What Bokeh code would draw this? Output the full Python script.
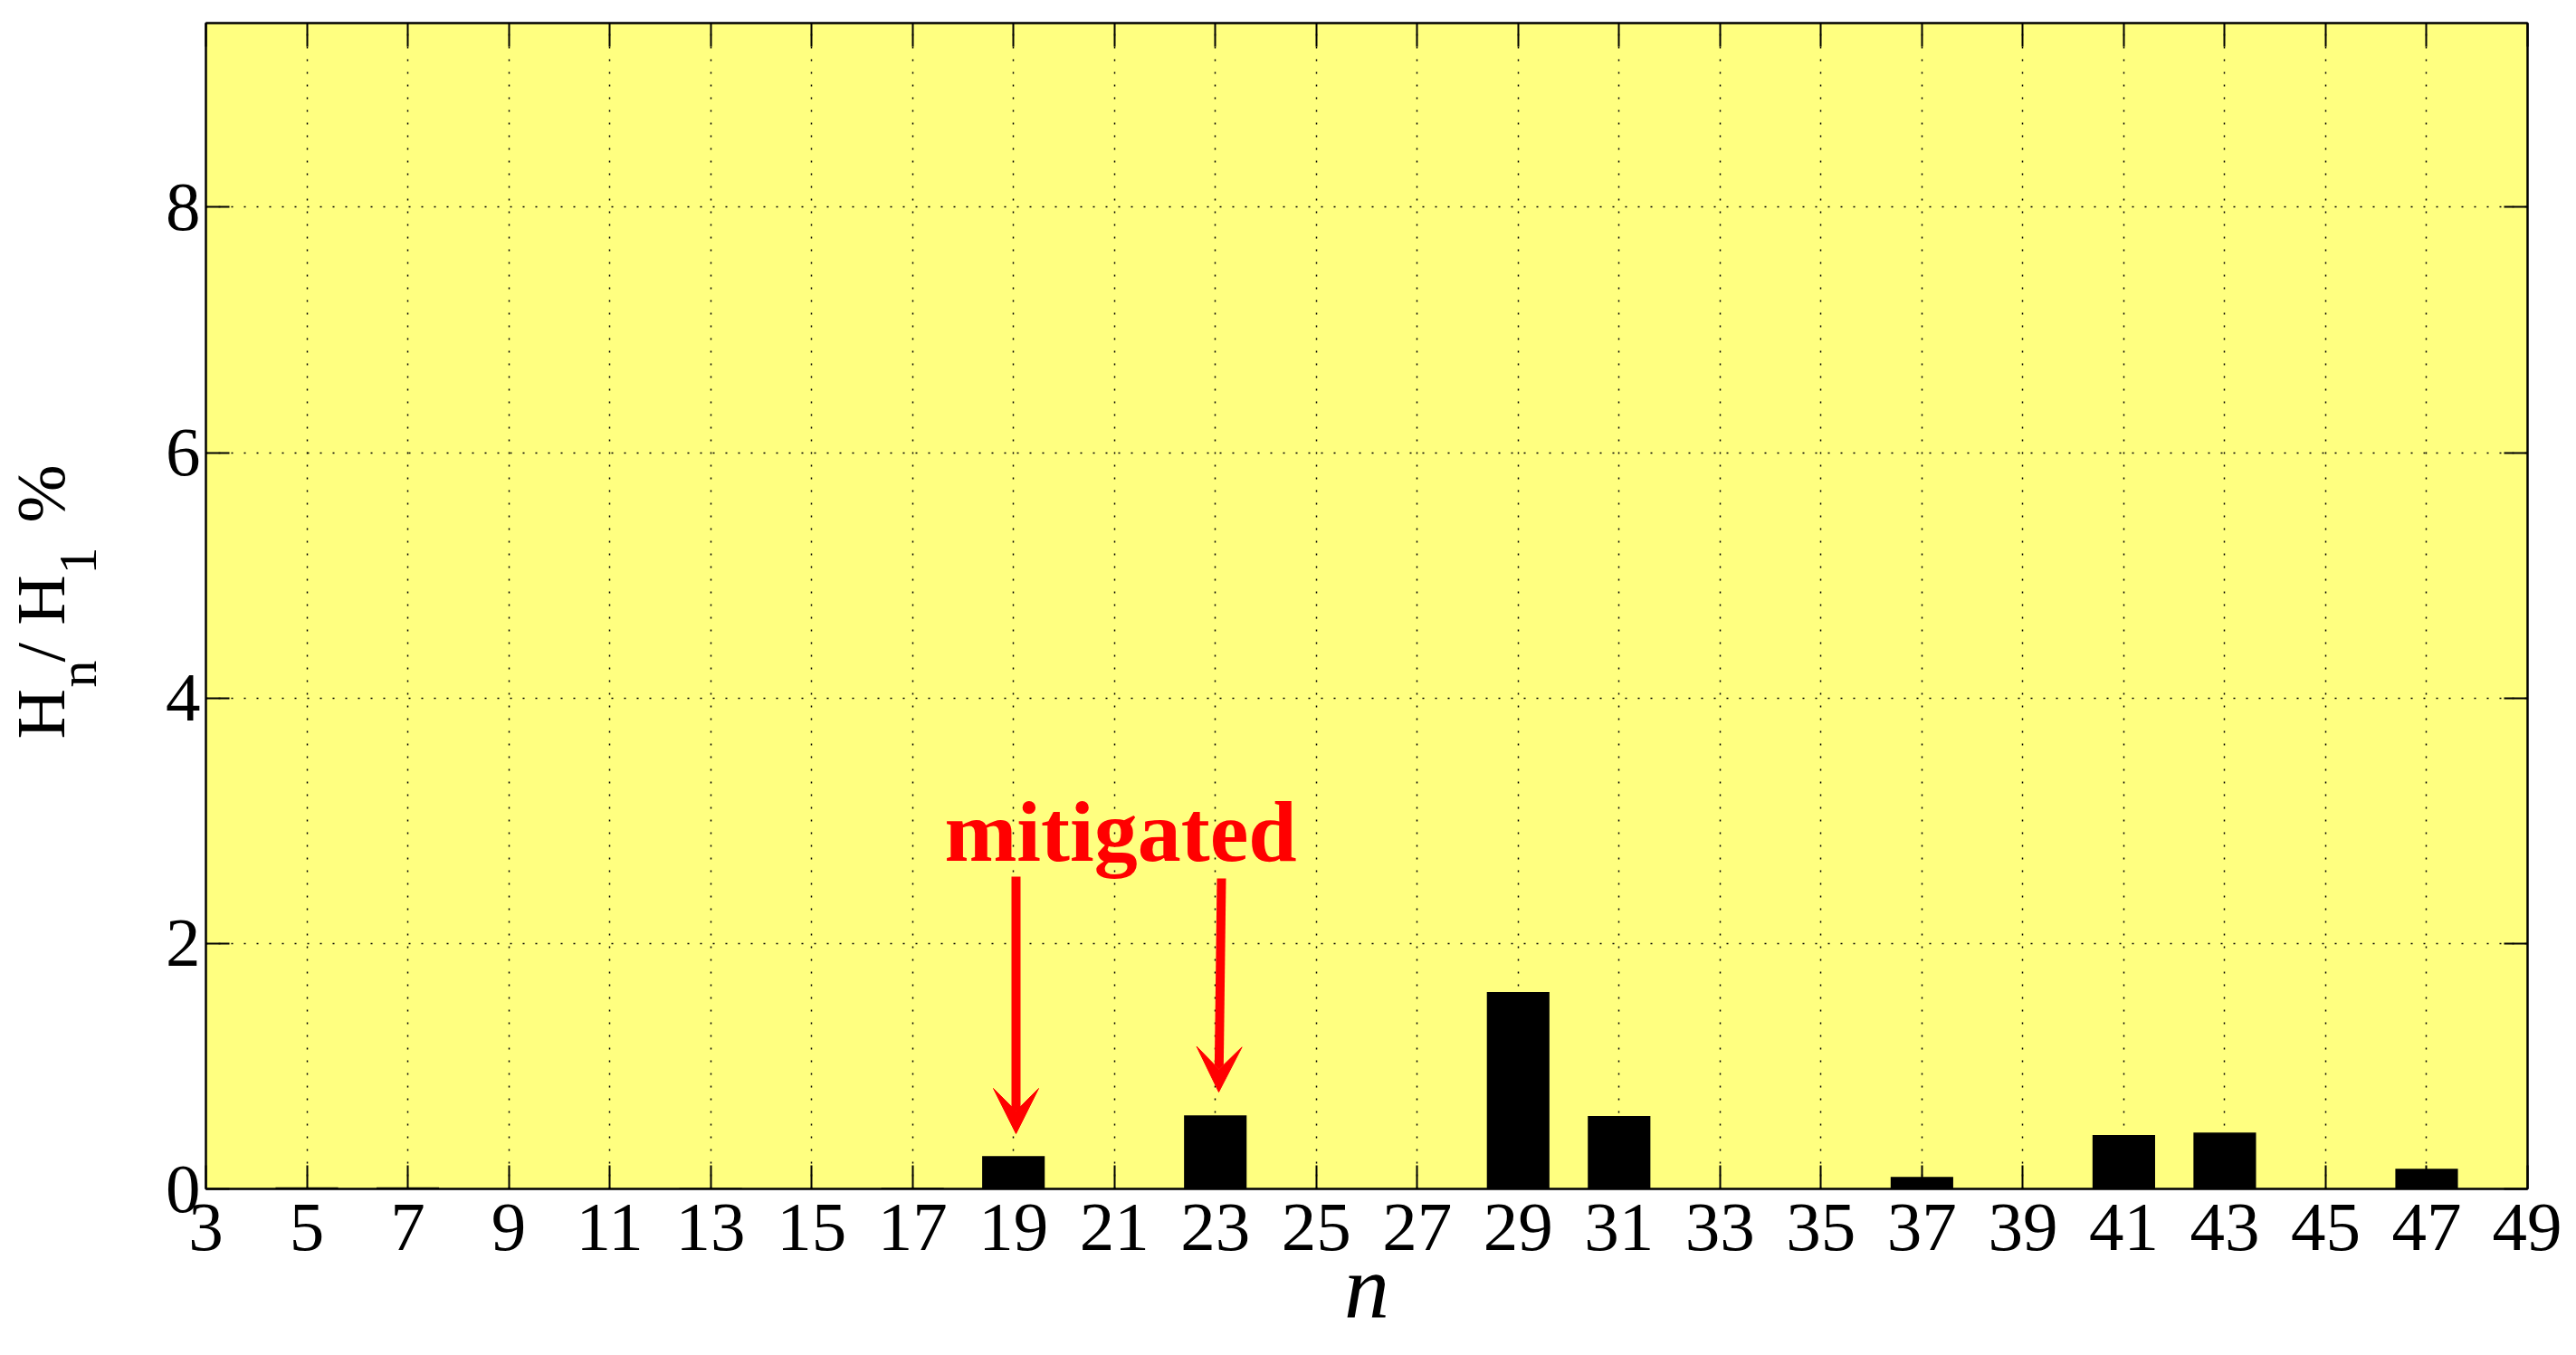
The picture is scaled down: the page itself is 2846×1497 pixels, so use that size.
from bokeh.plotting import figure
from bokeh.layouts import row
from bokeh.models import (Range1d, FixedTicker, LinearAxis, Label, Arrow, VeeHead)
from bokeh.embed import file_html
from bokeh.resources import INLINE
import math

# ---- data ----
harmonics = [3, 5, 7, 9, 11, 13, 15, 17, 19, 21, 23, 25, 27, 29, 31, 33, 35, 37, 39, 41, 43, 45, 47, 49]
hn_h1_pct = [0.0, 0.012, 0.012, 0.0, 0.0, 0.008, 0.0, 0.01, 0.268, 0.0, 0.600, 0.0, 0.0, 1.604,
             0.593, 0.0, 0.0, 0.098, 0.0, 0.438, 0.460, 0.0, 0.165, 0.0]
y_ticks = [0, 2, 4, 6, 8]
mitigated = [19, 23]

X0, X1 = 3, 49
Y0, Y1 = 0, 9.5

TOTAL_W, TOTAL_H = 2830, 1481
LEFT_W = 150
FL, FR, FT, FB = 227.0, 2792.0, 25.0, 1313.0   # frame edges (page px), used to place annotations

def dx(px):
    return X0 + (px - FL) * (X1 - X0) / (FR - FL)
def dy(py):
    return Y0 + (FB - py) * (Y1 - Y0) / (FB - FT)

FONT = "Liberation Serif"
MID = 0.3375   # distance from baseline to em-box centre, in font sizes

# ---- left strip holding the y-axis title with real subscripts ----
lf = figure(width=LEFT_W, height=TOTAL_H, output_backend="svg", toolbar_location=None,
            x_axis_type=None, y_axis_type=None,
            x_range=Range1d(0, LEFT_W), y_range=Range1d(FB, FT),
            min_border=0, min_border_left=0, min_border_right=0,
            min_border_top=int(FT), min_border_bottom=TOTAL_H - int(FB))
lf.grid.visible = False
lf.outline_line_color = None
lf.background_fill_color = "white"
lf.border_fill_color = "white"
# (text, start y, baseline x, font px)
pieces = [("H", 816, 70, 77), ("n", 759, 106, 60), ("/ H", 731, 70, 77),
          ("1", 634, 106, 60), ("%", 577, 70, 77)]
for txt, ys, xb, fs in pieces:
    xc = xb - MID * fs
    lf.add_layout(Label(x=xc, y=ys, text=txt, angle=math.pi / 2,
                        text_font=FONT, text_font_size=f"{fs}px", text_align="left",
                        text_baseline="middle", text_color="black"))

# ---- main plot ----
p = figure(width=TOTAL_W - LEFT_W, height=TOTAL_H, output_backend="svg", toolbar_location=None,
           x_range=Range1d(X0, X1), y_range=Range1d(Y0, Y1),
           min_border_left=int(FL) - LEFT_W, min_border_right=TOTAL_W - int(FR),
           min_border_top=int(FT), min_border_bottom=TOTAL_H - int(FB))
p.background_fill_color = "#FFFF80"
p.border_fill_color = "white"
p.outline_line_color = "black"
p.outline_line_width = 2
p.outline_line_alpha = 1

p.vbar(x=harmonics, top=hn_h1_pct, width=1.24, bottom=0, fill_color="black", line_color=None)

def style_axis(ax, ticks, labels=True):
    ax.ticker = FixedTicker(ticks=ticks)
    ax.major_tick_in = 26
    ax.major_tick_out = 0
    ax.minor_tick_line_color = None
    ax.major_tick_line_width = 2
    ax.major_tick_line_color = "black"
    ax.axis_line_width = 2
    ax.axis_line_color = "black"
    ax.major_label_text_font = FONT
    ax.major_label_text_color = "black"
    if labels:
        ax.major_label_text_font_size = "77px"
    else:
        ax.major_label_text_font_size = "1px"
        ax.major_label_overrides = {t: "" for t in ticks}
        ax.major_label_standoff = 0

style_axis(p.xaxis[0], harmonics)
style_axis(p.yaxis[0], y_ticks)
p.xaxis[0].major_label_standoff = 17
p.yaxis[0].major_label_standoff = 6

p.xaxis[0].axis_label = "n"
p.xaxis[0].axis_label_text_font = FONT
p.xaxis[0].axis_label_text_font_style = "italic"
p.xaxis[0].axis_label_text_font_size = "100px"
p.xaxis[0].axis_label_text_color = "black"
p.xaxis[0].axis_label_standoff = -18

top_ax = LinearAxis()
style_axis(top_ax, harmonics, labels=False)
p.add_layout(top_ax, "above")
right_ax = LinearAxis()
style_axis(right_ax, y_ticks, labels=False)
p.add_layout(right_ax, "right")

for g in (p.xgrid[0], p.ygrid[0]):
    g.grid_line_color = "black"
    g.grid_line_dash = "2 12"
    g.grid_line_width = 1.5
    g.grid_line_alpha = 1
p.xgrid[0].ticker = FixedTicker(ticks=harmonics)
p.ygrid[0].ticker = FixedTicker(ticks=y_ticks)

# annotation
p.add_layout(Label(x=dx(1237.5), y=dy(950 - MID * 96), text="mitigated", text_font=FONT,
                   text_font_style="bold", text_font_size="96px", text_align="center",
                   text_baseline="middle", text_color="#FF0000"))
arrow_specs = [(dx(1122), dy(968), dx(1122), dy(1252)),
               (dx(1349), dy(970), dx(1346), dy(1206))]
for xs, ys_, xe, ye in arrow_specs:
    p.add_layout(Arrow(x_start=xs, y_start=ys_, x_end=xe, y_end=ye,
                       line_color="#FF0000", line_width=10,
                       end=VeeHead(size=50, fill_color="#FF0000", line_color="#FF0000", line_width=1)))

layout = row(lf, p, spacing=0)
open("out.html", "w").write(file_html(layout, INLINE))
